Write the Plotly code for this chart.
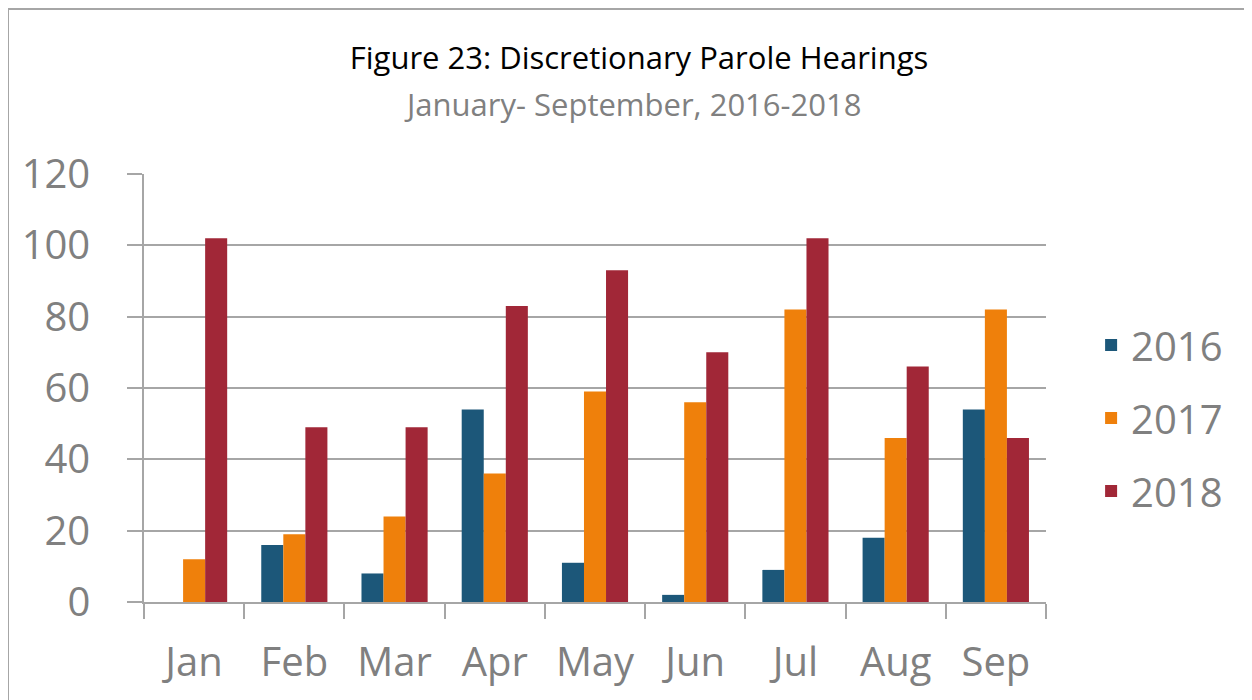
import plotly.graph_objects as go

months = ["Jan", "Feb", "Mar", "Apr", "May", "Jun", "Jul", "Aug", "Sep"]
y2016 = [0, 16, 8, 54, 11, 2, 9, 18, 54]
y2017 = [12, 19, 24, 36, 59, 56, 82, 46, 82]
y2018 = [102, 49, 49, 83, 93, 70, 102, 66, 46]
series_names = ["2016", "2017", "2018"]
series_colors = ["#1c5779", "#ef800b", "#a12737"]

FONT = "Open Sans"
GRAY = "#808080"
LINE = "#a6a6a6"

# page body has an 8px offset; plot area on screen spans x 144..1046, y 174..602
OFF = 8
L, R, T, B = 144 - OFF, 1046 - OFF, 174 - OFF, 602 - OFF

fig = go.Figure()
for name, vals, col in zip(series_names, [y2016, y2017, y2018], series_colors):
    fig.add_trace(go.Bar(x=months, y=vals, name=name, marker_color=col,
                         marker_line_width=0, legendgroup=name))

fig.update_layout(
    width=1252, height=700,
    margin=dict(l=L, r=1252 - R, t=T, b=700 - B),
    paper_bgcolor="white", plot_bgcolor="white",
    barmode="group", bargap=0.34, bargroupgap=0,
    font=dict(family=FONT, color=GRAY),
    title=dict(text="Figure 23: Discretionary Parole Hearings",
               font=dict(family=FONT, size=31, color="black"),
               xref="container", x=(639 - OFF) / 1252, xanchor="center",
               yref="container", y=1 - (58 - OFF) / 700, yanchor="middle"),
    legend=dict(font=dict(size=40, color=GRAY), x=1.05, xanchor="left",
                y=0.43, yanchor="middle", traceorder="grouped",
                tracegroupgap=18, bgcolor="rgba(0,0,0,0)"),
    xaxis=dict(showline=True, linecolor=LINE, linewidth=1.5,
               ticks="outside", tickson="boundaries", ticklen=15,
               tickcolor=LINE, tickwidth=1.5,
               tickfont=dict(size=40, color=GRAY), ticklabelstandoff=24),
    yaxis=dict(range=[0, 120], dtick=20, showline=True, linecolor=LINE,
               linewidth=1.5, showgrid=True, gridcolor=LINE, gridwidth=1.5,
               ticks="outside", ticklen=15, tickcolor=LINE, tickwidth=1.5,
               tickfont=dict(size=40, color=GRAY), ticklabelstandoff=29,
               zeroline=False),
    annotations=[dict(text="January- September, 2016-2018", showarrow=False,
                      xref="paper", yref="paper", x=(632 - 144) / 902,
                      y=(602 - 104) / 428, xanchor="center", yanchor="middle",
                      font=dict(family=FONT, size=31, color=GRAY))],
    shapes=[dict(type="rect", xref="paper", yref="paper",
                 x0=(8 - 144) / 902, x1=(1247 - 144) / 902,
                 y0=(602 - 710) / 428, y1=(602 - 9) / 428,
                 line=dict(color=LINE, width=2), layer="below")],
)

fig.write_html("out.html")
